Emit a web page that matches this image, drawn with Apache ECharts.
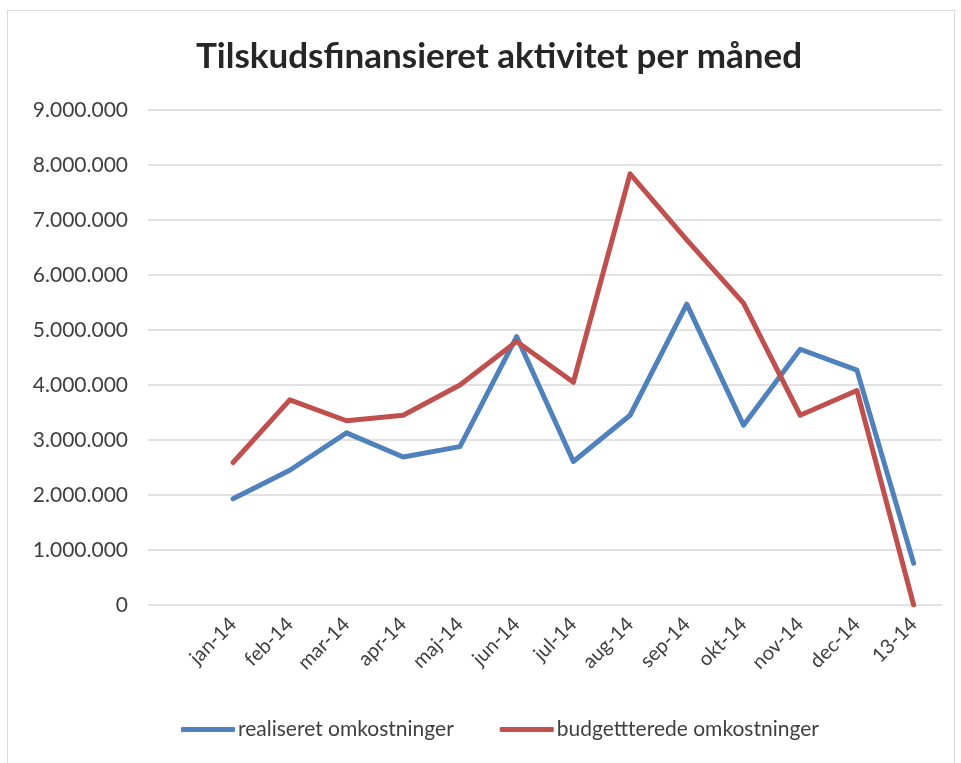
<!DOCTYPE html>
<html>
<head>
<meta charset="utf-8">
<script src="https://cdn.jsdelivr.net/npm/echarts@6/dist/echarts.min.js"></script>
<style>
  html, body { margin: 0; padding: 0; background: #fff; }
  #frame {
    position: absolute; left: 7px; top: 10px; width: 948px; height: 770px;
    border: 1px solid #d9d9d9; box-sizing: border-box;
  }
  #chart { position: absolute; left: 0; top: 0; width: 961px; height: 763px; }
</style>
</head>
<body>
<div id="frame"></div>
<div id="chart"></div>
<script>
// first category is blank in the source sheet
const months = ['', 'jan-14', 'feb-14', 'mar-14', 'apr-14', 'maj-14', 'jun-14', 'jul-14',
  'aug-14', 'sep-14', 'okt-14', 'nov-14', 'dec-14', '13-14']
const realiseret = [null, 1930000, 2450000, 3130000, 2690000, 2880000, 4880000, 2610000,
  3450000, 5470000, 3270000, 4650000, 4270000, 760000]
const budget = [null, 2590000, 3730000, 3350000, 3450000, 4000000, 4790000, 4050000,
  7840000, 6640000, 5490000, 3450000, 3900000, 0]
const seriesNames = ['realiseret omkostninger', 'budgettterede omkostninger']

const textColor = '#404040'
const font = 'Lato, "Open Sans", sans-serif'

const fmt = v => String(v).replace(/\B(?=(\d{3})+(?!\d))/g, '.')

const chart = echarts.init(document.getElementById('chart'))

const option = {
  animation: false,
  title: {
    text: 'Tilskudsfinansieret aktivitet per måned',
    left: 191,
    top: 34,
    textStyle: { fontFamily: font, fontSize: 35, fontWeight: 'bold', color: '#262626' }
  },
  legend: {
    bottom: 18,
    left: 176,
    itemWidth: 54,
    itemHeight: 5,
    itemGap: 46,
    icon: 'roundRect',
    textStyle: { fontFamily: font, fontSize: 21, color: textColor, padding: [0, 0, 0, -2] },
    data: seriesNames
  },
  grid: { left: 148, right: 19, top: 110, bottom: 158 },
  xAxis: {
    type: 'category',
    data: months,
    boundaryGap: true,
    axisLine: { show: false },
    axisTick: { show: false },
    axisLabel: {
      interval: 0,
      rotate: 45,
      margin: 16,
      fontFamily: font,
      fontSize: 20,
      color: textColor
    }
  },
  yAxis: {
    type: 'value',
    min: 0,
    max: 9000000,
    interval: 1000000,
    axisLine: { show: false },
    axisTick: { show: false },
    splitLine: { lineStyle: { color: '#d9d9d9', width: 1.5 } },
    axisLabel: {
      formatter: fmt,
      margin: 20,
      fontFamily: font,
      fontSize: 21,
      color: textColor
    }
  },
  series: [
    {
      name: seriesNames[0],
      type: 'line',
      data: realiseret,
      symbol: 'none',
      itemStyle: { color: '#4f81bd' },
      lineStyle: { width: 5, color: '#4f81bd', cap: 'round', join: 'round' }
    },
    {
      name: seriesNames[1],
      type: 'line',
      data: budget,
      symbol: 'none',
      itemStyle: { color: '#c0504d' },
      lineStyle: { width: 5, color: '#c0504d', cap: 'round', join: 'round' }
    }
  ]
}

chart.setOption(option)
</script>
</body>
</html>
